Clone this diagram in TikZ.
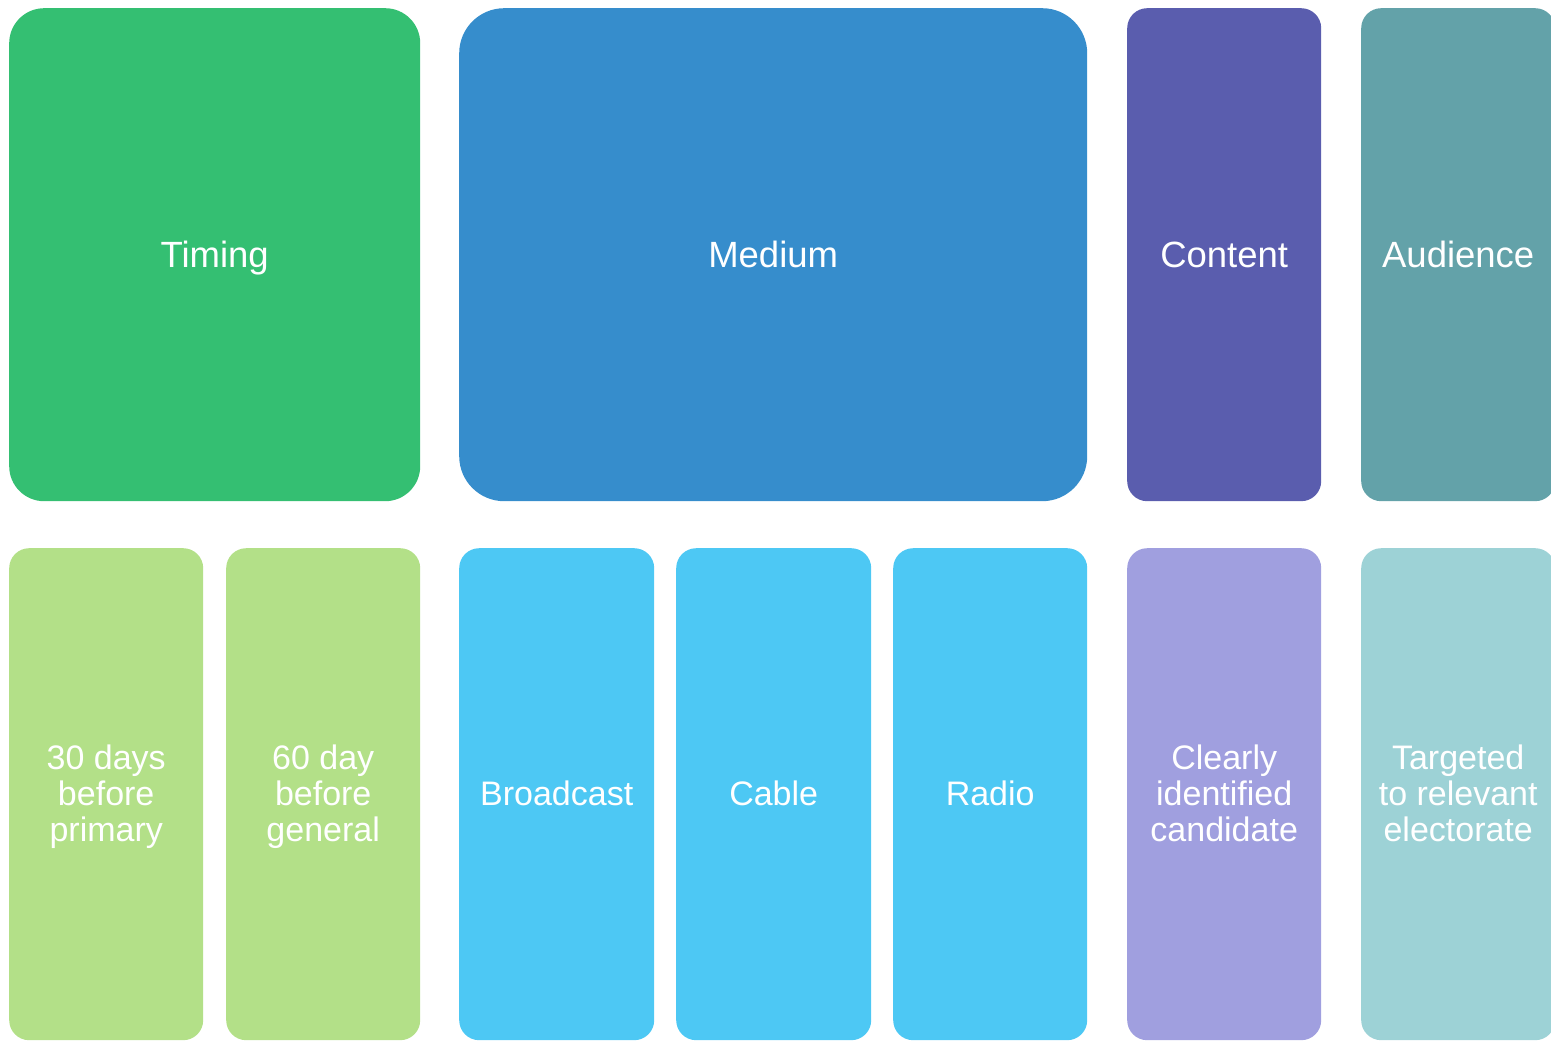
\documentclass[tikz,border=0pt]{standalone}
\usepackage{fontspec}
\setmainfont{Liberation Sans}

\definecolor{timingcol}{HTML}{34BF72}
\definecolor{mediumcol}{HTML}{368DCC}
\definecolor{contentcol}{HTML}{5A5DAE}
\definecolor{audiencecol}{HTML}{63A2A9}
\definecolor{timingsub}{HTML}{B3E088}
\definecolor{mediumsub}{HTML}{4DC8F4}
\definecolor{contentsub}{HTML}{A09FDF}
\definecolor{audiencesub}{HTML}{9DD2D6}

\newcommand{\tilestrut}{\rule[-0.212em]{0pt}{1.117em}}

\tikzset{
    tile/.style={anchor=north west, inner sep=0pt, text=white, align=center,
        rounded corners=20pt, minimum height=493pt,
        execute at begin node=\tilestrut, execute at end node=\tilestrut},
    headtile/.style={tile, font=\fontsize{36.5}{42}\selectfont},
    subtile/.style={tile, minimum height=492pt, font=\fontsize{34}{36}\selectfont}
}

\begin{document}
\begin{tikzpicture}[x=1pt, y=-1pt]
    % Define row positions
    \def\toprow{8}
    \def\lowrow{548}

    \useasboundingbox (0,0) rectangle (1551,1041);
    \clip (0,0) rectangle (1551,1041);

    % Categories
    \node[headtile, fill=timingcol, rounded corners=35pt, minimum width=411pt] (timing) at (9,\toprow) {Timing};
    \node[headtile, fill=mediumcol, rounded corners=45pt, minimum width=628pt] (medium) at (459,\toprow) {Medium};
    \node[headtile, fill=contentcol, minimum width=194pt] (content) at (1127,\toprow) {Content};
    \node[headtile, fill=audiencecol, minimum width=194pt] (audience) at (1361,\toprow) {Audience};

    % Sub-categories (struts keep the three lines centred)
    \node[subtile, fill=timingsub, minimum width=194pt] (primary) at (9,\lowrow) {\tilestrut 30 days\\before\\primary\tilestrut};
    \node[subtile, fill=timingsub, minimum width=194pt] (general) at (226,\lowrow) {\tilestrut 60 day\\before\\general\tilestrut};
    \node[subtile, fill=mediumsub, minimum width=195pt] (broadcast) at (459,\lowrow) {Broadcast};
    \node[subtile, fill=mediumsub, minimum width=195pt] (cable) at (676,\lowrow) {Cable};
    \node[subtile, fill=mediumsub, minimum width=194pt] (radio) at (893,\lowrow) {Radio};
    \node[subtile, fill=contentsub, minimum width=194pt] (candidate) at (1127,\lowrow) {\tilestrut Clearly\\identified\\candidate\tilestrut};
    \node[subtile, fill=audiencesub, minimum width=194pt] (electorate) at (1361,\lowrow) {\tilestrut Targeted\\to relevant\\electorate\tilestrut};
\end{tikzpicture}
\end{document}
